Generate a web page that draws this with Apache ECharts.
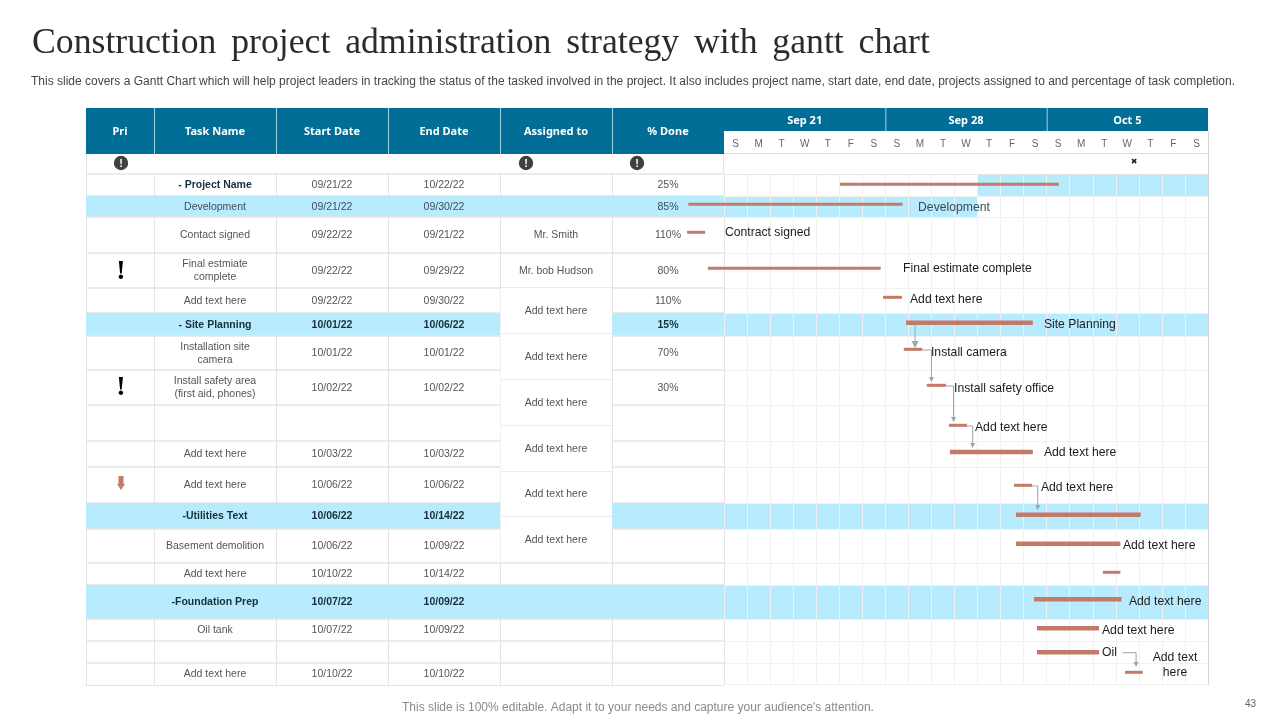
<!DOCTYPE html>
<html><head><meta charset="utf-8">
<style>html,body{margin:0;padding:0;background:#fff}#c{width:1280px;height:720px}</style>
<script src="https://cdn.jsdelivr.net/npm/echarts@6/dist/echarts.min.js"></script>
</head><body><div id="c"></div>
<script>
// ---------- text ----------
const titleWords = ["Construction","project","administration","strategy","with","gantt","chart"];
const subtitleText = "This slide covers a Gantt Chart which will help project leaders in tracking the status of the tasked involved in the project. It also includes project name, start date, end date, projects assigned to and percentage of task completion.";
const footerText = "This slide is 100% editable. Adapt it to your needs and capture your audience's attention.";
const pageNumber = "43";
const columnNames = ["Pri","Task Name","Start Date","End Date","Assigned to","% Done"];
const weekLabels = ["Sep 21","Sep 28","Oct 5"];
const dayLetters = ["S","M","T","W","T","F","S","S","M","T","W","T","F","S","S","M","T","W","T","F","S"];
// ---------- table ----------
const taskNames = ["","- Project Name","Development","Contact signed","Final estmiate\ncomplete","Add text here","- Site Planning","Installation site\ncamera","Install safety area\n(first aid, phones)","","Add text here","Add text here","-Utilities Text","Basement demolition","Add text here","-Foundation Prep","Oil tank","","Add text here"];
const startDates = ["","09/21/22","09/21/22","09/22/22","09/22/22","09/22/22","10/01/22","10/01/22","10/02/22","","10/03/22","10/06/22","10/06/22","10/06/22","10/10/22","10/07/22","10/07/22","","10/10/22"];
const endDates = ["","10/22/22","09/30/22","09/21/22","09/29/22","09/30/22","10/06/22","10/01/22","10/02/22","","10/03/22","10/06/22","10/14/22","10/09/22","10/14/22","10/09/22","10/09/22","","10/10/22"];
const assignedTo = ["","","","Mr. Smith","Mr. bob Hudson","","","","","","","","","","","","","",""];
const percentDone = ["","25%","85%","110%","80%","110%","15%","70%","30%","","","","","","","","","",""];
const boldRows = [6,12,15];
const boldNameOnlyRows = [1];
const mergedAssigned = ["Add text here","Add text here","Add text here","Add text here","Add text here","Add text here"];
// ---------- gantt bars, in days from the first column of the timeline ----------
const barStart = [5.03,-1.55,-1.6,-0.7,6.9,7.9,7.8,8.8,9.76,9.8,12.58,12.67,12.67,16.44,13.45,13.58,13.58,17.4];
const barEnd   = [14.53,7.75,-0.82,6.8,7.72,13.4,8.6,9.63,10.54,13.4,13.36,18.08,17.2,17.2,17.25,16.27,16.27,18.17];
const barLane  = [184.3,204.3,232.3,268.3,297.3,322.7,349.3,385.3,425.3,452,485.3,514.7,543.7,572.3,599.3,628.3,652.3,672.3];
const labelText = ["Development","Contract signed","Final estimate complete","Add text here","Site Planning","Install camera","Install safety office","Add text here","Add text here","Add text here","Add text here","Add text here","Add text here","Oil","Add text\nhere"];
const labelDay  = [8.42,0.04,7.77,8.07,13.88,8.98,9.98,10.89,13.88,13.75,17.31,17.57,16.4,16.4,19.57];
const labelLane = [207.5,232.5,269,300,325,353,389,428,453,488,546,602,631,653,665];
const linkFromDay = [8.29,8.6,9.63,10.54,13.36,17.3];
const linkFromLane = [325,350,386,426,486,652.7];
const linkToDay = [8.29,9.0,9.96,10.79,13.61,17.88];
const linkToLane = [348,382,422,448,510,667];
const blueDaySpans = [[1,11,21],[2,0,11],[6,0,21],[12,0,21],[15,0,21]];

// ---------- layout (sheet units used by the y axis and by the table x axis) ----------
const rowEdges = [154,174,196,217,253,288,313,336,370,405,441,467,503,529,563,585,619,641,663,685];
const colEdges = [86,154,276,388,500,612,724];
const mergedEdges = [288,334,380,426,472,517,563];
const heavyBars = [5,9,11,12,14,15,16];
const C = {head:'#006e96', blue:'#b7ebfd', bar:'#c37a69', line:'#e4e4e4', faint:'#f1f1f1', txt:'#555555', link:'#a3a3a3'};
const SANS = '"Liberation Sans",Arial,sans-serif';
const HEAD = '"Noto Sans",Tahoma,sans-serif';
const SERIF = '"Liberation Serif","Times New Roman",serif';
// title gap: one space plus a six-per-em space
const titleText = titleWords.join(" \u2006");

function rectShape(api, x0, y0, x1, y1){
  const a = api.coord([x0,y0]), b = api.coord([x1,y1]);
  return {x:a[0], y:a[1], width:b[0]-a[0], height:b[1]-a[1]};
}
function hline(api,x0,x1,y,color,w){
  const a=api.coord([x0,y]), b=api.coord([x1,y]), o=(w||1)===1?0.5:0;
  return {type:'line',shape:{x1:a[0],y1:a[1]+o,x2:b[0],y2:b[1]+o},style:{stroke:color,lineWidth:w||1}};
}
function vline(api,x,y0,y1,color,w){
  const a=api.coord([x,y0]), b=api.coord([x,y1]);
  return {type:'line',shape:{x1:a[0]+0.5,y1:a[1],x2:b[0]+0.5,y2:b[1]},style:{stroke:color,lineWidth:w||1}};
}
function label(p,text,size,weight,fill,font,align){
  return {type:'text',x:p[0],y:p[1],style:{text:text,fontSize:size,fontWeight:weight,fill:fill,fontFamily:font,align:align||'center',verticalAlign:'middle',lineHeight:Math.round(size*1.27)}};
}
function alertIcon(p){
  return {type:'group',children:[
    {type:'circle',shape:{cx:p[0],cy:p[1],r:7.2},style:{fill:'#404040'}},
    label([p[0],p[1]+0.5],'!',11,'bold','#ffffff',SANS)
  ]};
}

const option = {
  animation:false,
  backgroundColor:'#ffffff',
  title:[
    {text:titleText,left:32,top:26,padding:0,textStyle:{fontFamily:SERIF,fontSize:35.7,fontWeight:'normal',color:'#2b2b2b'}},
    {text:subtitleText,left:31,top:76,padding:0,textStyle:{fontFamily:SANS,fontSize:12,fontWeight:'normal',color:'#454545'}},
    {text:footerText,left:402,top:702,padding:0,textStyle:{fontFamily:SANS,fontSize:12,fontWeight:'normal',color:'#8a8a8a'}},
    {text:pageNumber,left:1245,top:699,padding:0,textStyle:{fontFamily:SANS,fontSize:10,fontWeight:'normal',color:'#666666'}}
  ],
  tooltip:{show:false},
  grid:[
    {left:724,top:154,width:484,height:531},
    {left:86,top:154,width:638,height:531}
  ],
  xAxis:[
    {type:'value',gridIndex:0,min:0,max:21,interval:1,z:1,axisLine:{show:false},axisTick:{show:false},axisLabel:{show:false},splitLine:{show:true,lineStyle:{color:C.faint,width:1}}},
    {type:'category',gridIndex:0,position:'top',data:dayLetters,z:6,axisLine:{show:false},axisTick:{show:false},axisLabel:{interval:0,margin:5,fontSize:10,fontFamily:SANS,color:'#666666'},splitLine:{show:false}},
    {type:'category',gridIndex:0,position:'top',offset:23,data:weekLabels,z:6,axisLine:{show:false},axisTick:{show:false},axisLabel:{interval:0,margin:5,fontSize:11,fontWeight:'bold',fontFamily:HEAD,color:'#ffffff'},splitLine:{show:false}},
    {type:'value',gridIndex:1,min:86,max:724,show:false}
  ],
  yAxis:[
    {type:'value',gridIndex:0,min:154,max:685,inverse:true,show:false,splitLine:{show:false}},
    {type:'value',gridIndex:1,min:154,max:685,inverse:true,show:false,splitLine:{show:false}}
  ],
  series:[
    // blue rows on the timeline
    {type:'custom',name:'bands',xAxisIndex:0,yAxisIndex:0,z:0,silent:true,clip:false,
     data:blueDaySpans.map((s,i)=>[i]),
     renderItem:(p,api)=>{const s=blueDaySpans[p.dataIndex];
       return {type:'rect',shape:rectShape(api,s[1],rowEdges[s[0]],s[2],rowEdges[s[0]+1]),style:{fill:C.blue}};}},
    // horizontal grid and frame of the timeline, week/day header
    {type:'custom',name:'frame',xAxisIndex:0,yAxisIndex:0,z:1,silent:true,clip:false,
     data:[[0]],
     renderItem:(p,api)=>{
       const ch=[{type:'rect',shape:rectShape(api,0,154,21,174),style:{fill:'#ffffff'}}];
       rowEdges.forEach((y,i)=>{ if(i>0 && i<rowEdges.length-1) ch.push(hline(api,0,21,y,i==1?C.line:C.faint,1)); });
       ch.push(hline(api,0,21,684,C.faint,1));
       ch.push(vline(api,21,131,685,'#d8d8d8',1));
       return {type:'group',children:ch};
     }},
    {type:'custom',name:'timehead',xAxisIndex:0,yAxisIndex:0,z:3,silent:true,clip:false,
     data:[[0]],
     renderItem:(p,api)=>{
       const ch=[{type:'rect',shape:rectShape(api,0,108,21,131),style:{fill:C.head}}];
       [7,14].forEach(d=>ch.push(vline(api,d,108,131,'#9fd3e6',1)));
       ch.push(hline(api,0,21,153,'#dcdcdc',1));
       return {type:'group',children:ch};
     }},
    // table body
    {type:'custom',name:'table',xAxisIndex:3,yAxisIndex:1,z:2,silent:true,clip:false,
     data:taskNames.map((t,i)=>[i]),
     renderItem:(p,api)=>{
       const i=p.dataIndex, y0=rowEdges[i], y1=rowEdges[i+1], ym=(y0+y1)/2+0.5, ch=[];
       const blue=blueDaySpans.some(s=>s[0]===i && s[1]===0);
       if(blue) ch.push({type:'rect',shape:rectShape(api,86,y0,724,y1),style:{fill:C.blue}});
       if(!blue && i>0) colEdges.forEach((x,k)=>ch.push(vline(api,x,y0,y1,C.line,1)));
       if(i===0){ch.push(vline(api,86,y0,y1,C.line,1));ch.push(vline(api,723,y0,y1,C.line,1));}
       ch.push(hline(api,86,724,y1,C.line,i===rowEdges.length-2?1:1.5));
       const bold=boldRows.includes(i), nameBold=bold||boldNameOnlyRows.includes(i);
       const col=bold?'#17303c':(blue?'#3d4f57':C.txt);
       const cx=k=>(colEdges[k]+colEdges[k+1])/2;
       [[1,taskNames[i]],[2,startDates[i]],[3,endDates[i]],[4,assignedTo[i]],[5,percentDone[i]]].forEach(([k,t])=>{
         const isName=k===1, w=(isName?nameBold:bold)?'bold':'normal', c=(isName&&nameBold)?'#17303c':col;
         if(t) ch.push(label(api.coord([cx(k),ym]),t,10.5,w,c,SANS));
       });
       return {type:'group',children:ch};
     }},
    // merged Assigned cells
    {type:'custom',name:'merged',xAxisIndex:3,yAxisIndex:1,z:3,silent:true,clip:false,
     data:mergedAssigned.map((t,i)=>[i]),
     renderItem:(p,api)=>{
       const i=p.dataIndex, y0=mergedEdges[i], y1=mergedEdges[i+1];
       return {type:'group',children:[
         {type:'rect',shape:rectShape(api,500,y0,612,y1),style:{fill:'#ffffff'}},
         hline(api,500,612,y1-1,'#ececec',1),
         vline(api,500,y0,y1,'#f1f1f1',1),
         label(api.coord([556,(y0+y1)/2]),mergedAssigned[i],10.5,'normal',C.txt,SANS)
       ]};
     }},
    // table header
    {type:'custom',name:'head',xAxisIndex:3,yAxisIndex:1,z:3,silent:true,clip:false,
     data:columnNames.map((t,i)=>[i]),
     renderItem:(p,api)=>{
       const i=p.dataIndex, x0=colEdges[i], x1=colEdges[i+1], ch=[
         {type:'rect',shape:rectShape(api,x0,108,x1,154),style:{fill:C.head}},
         label(api.coord([(x0+x1)/2,131.5]),columnNames[i],11,'bold','#ffffff',HEAD)];
       if(i>0) ch.push(vline(api,x0,108,154,'#9fd3e6',1));
       return {type:'group',children:ch};
     }},
    // marks in the table
    {type:'custom',name:'marks',xAxisIndex:3,yAxisIndex:1,z:4,silent:true,clip:false,
     data:[[0]],
     renderItem:(p,api)=>{
       const c=(x,y)=>api.coord([x,y]), ch=[];
       ch.push(alertIcon(c(121,163)),alertIcon(c(526,163)),alertIcon(c(637,163)));
       ch.push(label(c(121,272),'!',28,'bold','#000000',SERIF));
       ch.push(label(c(121,388),'!',28,'bold','#000000',SERIF));
       const a=c(121,476);
       ch.push({type:'polygon',shape:{points:[[a[0]-2.5,a[1]],[a[0]+2.5,a[1]],[a[0]+2.5,a[1]+8],[a[0]+4,a[1]+8],[a[0],a[1]+14],[a[0]-4,a[1]+8],[a[0]-2.5,a[1]+8]]},style:{fill:C.bar}});
       return {type:'group',children:ch};
     }},
    // links
    {type:'custom',name:'links',xAxisIndex:0,yAxisIndex:0,z:4,silent:true,clip:false,
     data:linkFromDay.map((d,i)=>[d,linkFromLane[i],linkToDay[i],linkToLane[i]]),
     renderItem:(p,api)=>{
       const a=api.coord([api.value(0),api.value(1)]), b=api.coord([api.value(2),api.value(3)]);
       const h=p.dataIndex===0?3.5:2.5, l=p.dataIndex===0?7:5;
       return {type:'group',children:[
         {type:'polyline',shape:{points:[a,[b[0],a[1]],[b[0],b[1]-l]]},style:{stroke:C.link,lineWidth:1,fill:null}},
         {type:'polygon',shape:{points:[[b[0]-h,b[1]-l],[b[0]+h,b[1]-l],[b[0],b[1]]]},style:{fill:C.link}}
       ]};
     }},
    // gantt bars
    {type:'custom',name:'bars',xAxisIndex:0,yAxisIndex:0,z:5,silent:true,clip:false,
     data:barStart.map((s,i)=>[s,barEnd[i],barLane[i]]),
     renderItem:(p,api)=>{
       const a=api.coord([api.value(0),api.value(2)]), b=api.coord([api.value(1),api.value(2)]);
       const t=heavyBars.includes(p.dataIndex)?4.5:3;
       return {type:'rect',shape:{x:a[0],y:a[1]-t/2,width:b[0]-a[0],height:t},style:{fill:C.bar}};
     }},
    // gantt labels
    {type:'custom',name:'labels',xAxisIndex:0,yAxisIndex:0,z:6,silent:true,clip:false,
     data:labelDay.map((d,i)=>[d,labelLane[i]]),
     renderItem:(p,api)=>{
       const t=labelText[p.dataIndex], multi=t.includes('\n');
       const e=label(api.coord([api.value(0),api.value(1)]),t,12.2,'normal',p.dataIndex===0?'#3f4a50':'#1c1c1c',SANS,multi?'center':'left');
       e.style.lineHeight=15;
       return e;
     }},
    {type:'custom',name:'flag',xAxisIndex:0,yAxisIndex:0,z:6,silent:true,clip:false,
     data:[[17.79,162]],
     renderItem:(p,api)=>label(api.coord([api.value(0),api.value(1)]),'✖',8,'normal','#222222','"DejaVu Sans",sans-serif')}
  ]
};
const chart = echarts.init(document.getElementById('c'),null,{renderer:'canvas'});
chart.setOption(option);
</script></body></html>
